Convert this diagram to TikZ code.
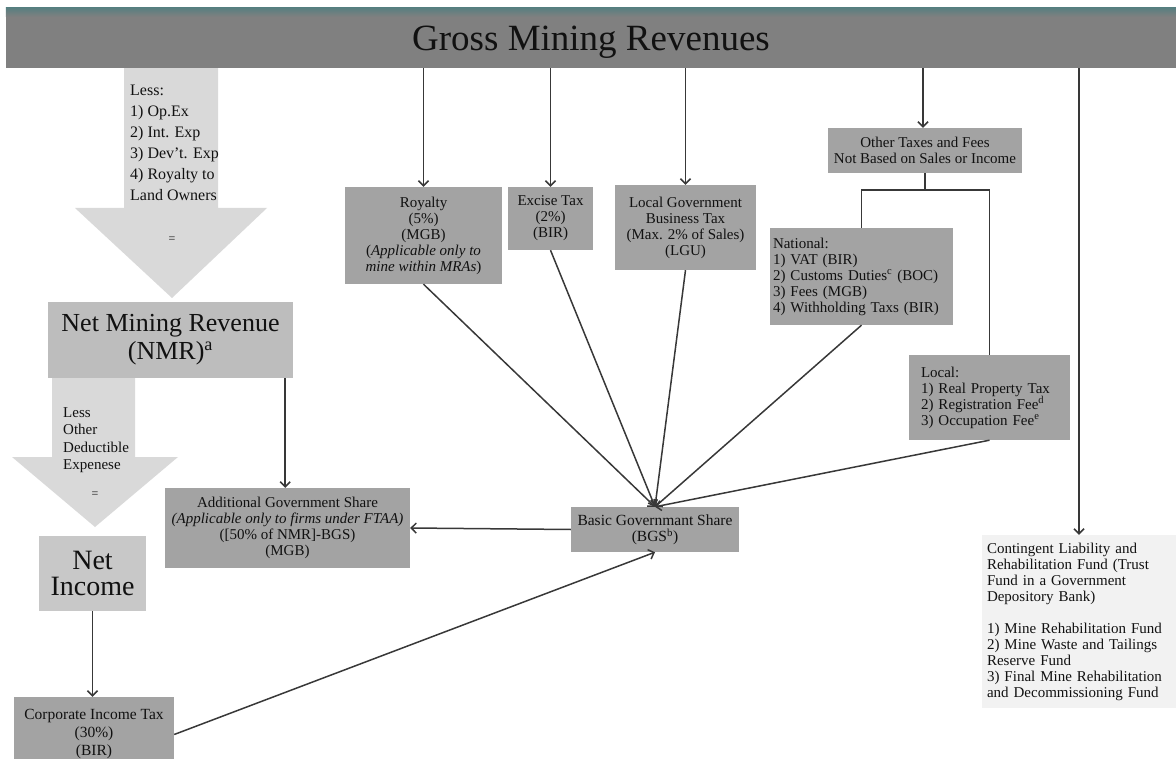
\documentclass[tikz,border=0pt]{standalone}
\usepackage{fontspec}
\setmainfont{Liberation Serif}
\usepackage{xcolor}
\definecolor{barGray}{HTML}{808080}
\definecolor{barTeal}{HTML}{587F80}
\definecolor{arrowGray}{HTML}{D9D9D9}
\definecolor{boxGray}{HTML}{A3A3A3}
\definecolor{softGray}{HTML}{BDBDBD}
\definecolor{paleGray}{HTML}{C8C8C8}
\definecolor{fundGray}{HTML}{F2F2F2}
\definecolor{lineGray}{HTML}{383838}
\definecolor{inkText}{HTML}{111111}
\usepackage{tikz}
\usetikzlibrary{
    arrows.meta,
    positioning,
    calc
}
\tikzset{
    % Base style for all boxes
    flat base/.style={
        rectangle,
        align=center,
        text=inkText,
        inner sep=2pt,
        font=\fontsize{15}{16}\selectfont,
    },
    % Header bar across the top
    headbar/.style={
        flat base,
        fill=barGray,
        minimum width=1170,
        minimum height=60,
        text depth=0pt,
        font=\fontsize{37}{40}\selectfont,
    },
    % Tax and share boxes - medium gray
    taxbox/.style={
        flat base,
        fill=boxGray,
    },
    % Large result boxes on the left
    resultbox/.style={
        flat base,
        fill=softGray,
        font=\fontsize{26}{28}\selectfont,
    },
    % Fund box - almost white
    fundbox/.style={
        flat base,
        fill=fundGray,
        align=left,
    },
    % Wide block arrows for deductions
    block arrow/.style={
        fill=arrowGray,
        draw=none,
    },
    % Text inside the block arrows
    arrow note/.style={
        align=left,
        text=inkText,
        inner sep=0pt,
        anchor=north west,
    },
    % Plain connector
    link/.style={
        draw=lineGray,
        line width=1.5pt,
    },
    % Connector with open arrow tip
    arrow/.style={
        link,
        -{Straight Barb[length=5pt, width=10pt]},
    },
}

\begin{document}
\begin{tikzpicture}[x=1pt, y=-1pt]
    \useasboundingbox (0,0) rectangle (1176,759);

    % deduction arrows on the left
    \fill [block arrow] (124,68) -- (218,68) -- (218,208) -- (267,208) -- (172,298) -- (75,208) -- (124,208) -- cycle;
    \fill [block arrow] (52,378) -- (135,378) -- (135,457) -- (178,457) -- (95,527) -- (12,457) -- (52,457) -- cycle;

    \node (banner) [headbar] at (591,38) {Gross Mining Revenues};
    \fill [top color=barTeal, bottom color=barGray] (banner.north west) rectangle ([yshift=-9pt]banner.north east);

    \node (less1) [arrow note, font=\fontsize{16}{21}\selectfont] at (130,85) {Less:\\1) Op.Ex\\2) Int. Exp\\3) Dev’t. Exp\\4) Royalty to\\Land Owners};
    \node (eq1) [arrow note, anchor=center, font=\fontsize{12}{14}\selectfont] at (172,240) {=};
    \node (nmr) [resultbox, minimum width=245, minimum height=76] at (170.5,340) {Net Mining Revenue\\(NMR)\textsuperscript{a}};
    \node (less2) [arrow note, font=\fontsize{15}{17.5}\selectfont] at (63,407) {Less\\Other\\Deductible\\Expenese};
    \node (eq2) [arrow note, anchor=center, font=\fontsize{12}{14}\selectfont] at (95,495) {=};
    \node (netinc) [resultbox, fill=paleGray, minimum width=107, minimum height=75, font=\fontsize{28}{26}\selectfont] at (92.5,573.5) {Net\\Income};
    \node (cit) [taxbox, minimum width=160, minimum height=75, font=\fontsize{15.5}{18}\selectfont] at (94,734.5) {Corporate Income Tax\\(30\%)\\(BIR)};

    \node (royalty) [taxbox, minimum width=157, minimum height=97] at (423.5,235.5) {Royalty\\(5\%)\\(MGB)\\(\textit{Applicable only to}\\\textit{mine within MRAs})};
    \node (excise) [taxbox, minimum width=85, minimum height=63] at (550.5,218.5) {Excise Tax\\(2\%)\\(BIR)};
    \node (lgu) [taxbox, minimum width=141, minimum height=85] at (685.5,227.5) {Local Government\\Business Tax\\(Max. 2\% of Sales)\\(LGU)};
    \node (other) [taxbox, minimum width=194, minimum height=45] at (925,150.5) {Other Taxes and Fees\\Not Based on Sales or Income};
    \node (national) [taxbox, align=left, text width=177, inner xsep=3pt, minimum height=97] at (861.5,276.5) {National:\\1) VAT (BIR)\\2) Customs Duties\textsuperscript{c} (BOC)\\3) Fees (MGB)\\4) Withholding Taxs (BIR)};
    \node (local) [taxbox, align=left, text width=137, inner xsep=12pt, minimum height=85] at (989.5,397.5) {Local:\\1) Real Property Tax\\2) Registration Fee\textsuperscript{d}\\3) Occupation Fee\textsuperscript{e}};
    \node (fund) [fundbox, text width=184, inner xsep=5pt, minimum height=173] at (1079,621.5) {Contingent Liability and\\Rehabilitation Fund (Trust\\Fund in a Government\\Depository Bank)\\[16pt]1) Mine Rehabilitation Fund\\2) Mine Waste and Tailings\\Reserve Fund\\3) Final Mine Rehabilitation\\and Decommissioning Fund};

    \node (ags) [taxbox, minimum width=245, minimum height=80] at (287.5,528) {Additional Government Share\\\textit{(Applicable only to firms under FTAA)}\\([50\% of NMR]-BGS)\\(MGB)};
    \node (bgs) [taxbox, minimum width=168, minimum height=45, font=\fontsize{15.5}{16}\selectfont] at (655,529.5) {Basic Governmant Share\\(BGS\textsuperscript{b})};

    % from the header bar
    \draw [arrow] (royalty.north |- banner.south) -- (royalty.north);
    \draw [arrow] (excise.north |- banner.south) -- (excise.north);
    \draw [arrow] (lgu.north |- banner.south) -- (lgu.north);
    \draw [arrow] ([xshift=-2pt]other.north |- banner.south) -- ([xshift=-2pt]other.north);
    \draw [arrow] (fund.north |- banner.south) -- (fund.north);

    % split of other taxes
    \coordinate (split) at ($(other.south)+(0,17)$);
    \draw [link] (other.south) -- (split);
    \draw [link] (national.north) |- (split) -| (local.north);

    % into the basic share
    \draw [arrow] (royalty.south) -- (bgs.north);
    \draw [arrow] (excise.south) -- (bgs.north);
    \draw [arrow] (lgu.south) -- (bgs.north);
    \draw [arrow] (national.south) -- (bgs.north);
    \draw [arrow] (local.south) -- (bgs.north);
    \draw [arrow] (cit.east) -- (bgs.south);
    \draw [arrow] (bgs.west) -- (ags.east);

    % left column
    \draw [arrow] ([xshift=-8pt]nmr.south east) -- ([xshift=-8pt]nmr.south east |- ags.north);
    \draw [arrow] (netinc.south) -- (netinc.south |- cit.north);
\end{tikzpicture}
\end{document}
